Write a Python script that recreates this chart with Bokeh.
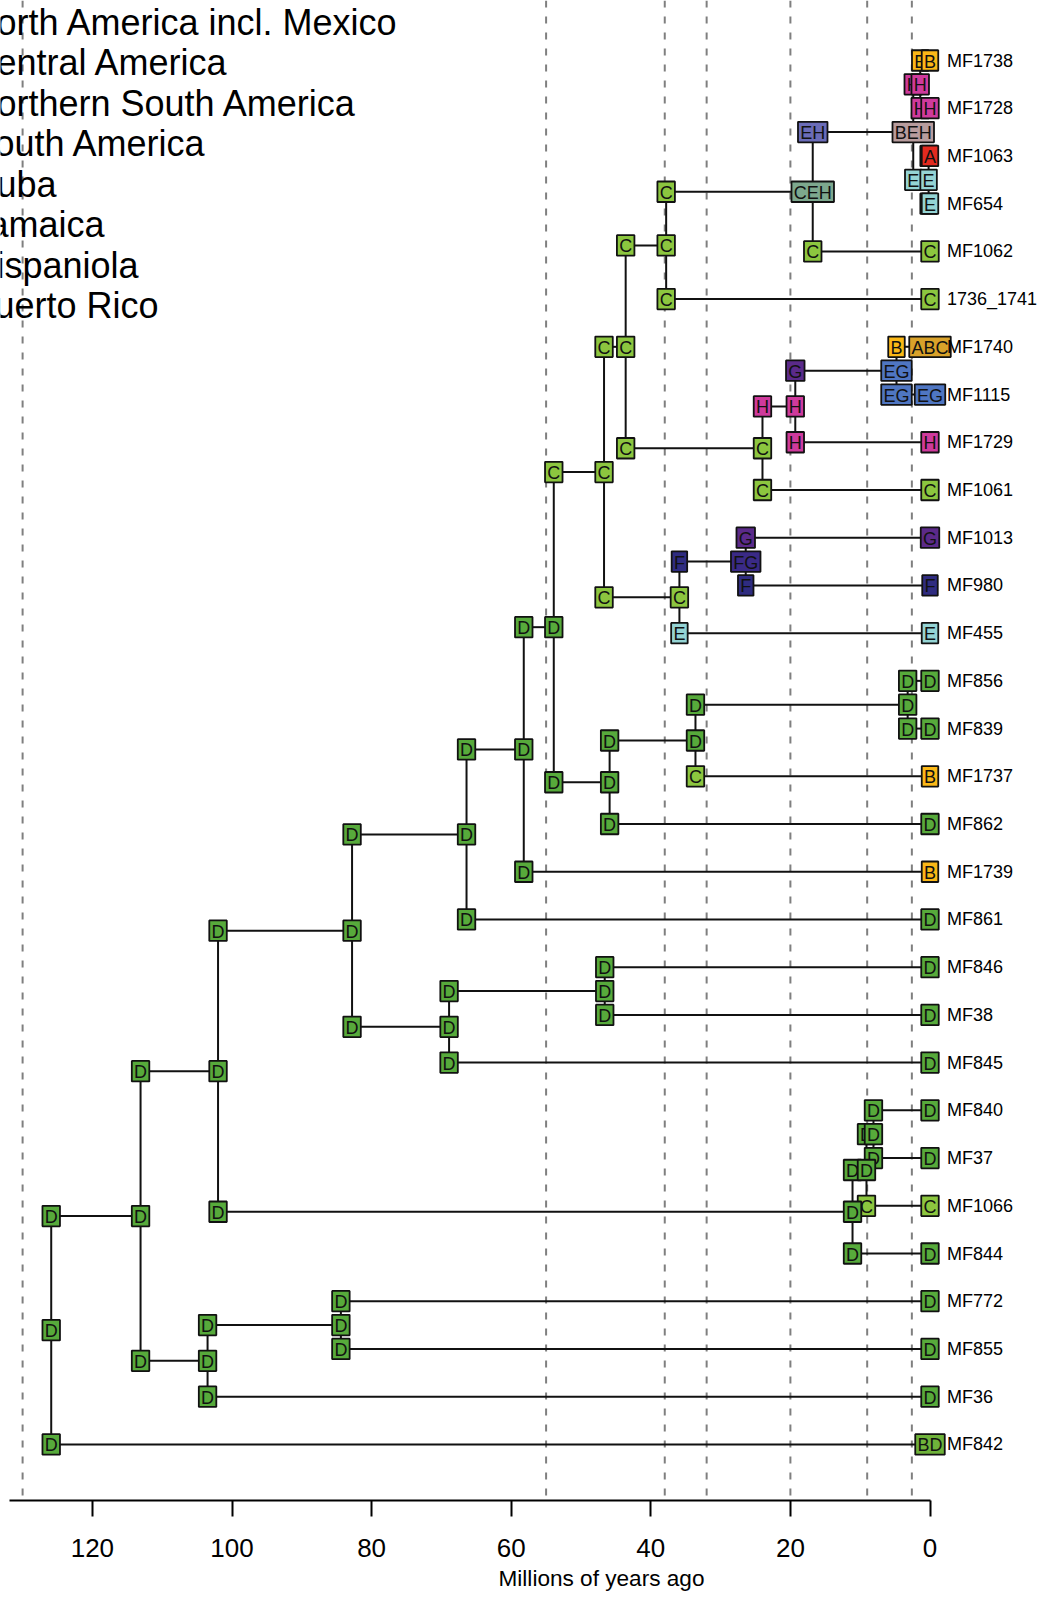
from bokeh.plotting import figure
from bokeh.models import Range1d, LinearAxis, FixedTicker, Span, ColumnDataSource, Title
from bokeh.embed import file_html
from bokeh.resources import INLINE
from bokeh.core.properties import value

# ---------------- data ----------------
tip_names = ["MF1738", "MF1728", "MF1063", "MF654", "MF1062", "1736_1741", "MF1740",
             "MF1115", "MF1729", "MF1061", "MF1013", "MF980", "MF455", "MF856", "MF839",
             "MF1737", "MF862", "MF1739", "MF861", "MF846", "MF38", "MF845", "MF840",
             "MF37", "MF1066", "MF844", "MF772", "MF855", "MF36", "MF842"]
tip_states = ["B", "H", "A", "E", "C", "C", "ABC", "EG", "H", "C", "G", "F", "E", "D", "D",
              "B", "D", "B", "D", "D", "D", "D", "D", "D", "C", "D", "D", "D", "D", "BD"]

# internal nodes: age (Ma), most probable state, children, states at the base of each child branch
node_names = ["root", "nA", "nB", "nC", "nE", "nD", "nG", "nH", "nF", "nI", "nJ", "nL", "nM",
              "nN", "nK", "nP", "nQ", "nO", "nS", "nT", "nU", "nR", "nV", "nW", "nX", "nY",
              "N1", "N2", "N3"]
node_ages = [125.9, 113.1, 102.0, 103.5, 84.4, 82.8, 68.9, 46.6, 66.4, 58.2, 53.9, 45.9, 33.6,
             3.2, 46.7, 35.9, 26.4, 43.6, 24.0, 19.3, 4.8, 37.8, 16.8, 2.4, 1.4, 0.2,
             11.1, 9.1, 8.1]
node_states = ["D", "D", "D", "D", "D", "D", "D", "D", "D", "D", "D", "D", "D",
               "D", "C", "C", "FG", "C", "C", "H", "EG", "C", "CEH", "BEH", "H", "E",
               "D", "D", "D"]
node_top = ["nA", "nB", "nD", "nE", "MF772", "nF", "nH", "MF846", "nI", "nJ", "nK", "nM", "nN",
            "MF856", "nO", "nQ", "MF1013", "nR", "nT", "nU", "MF1740", "nV", "nW", "nX",
            "MF1738", "MF1063", "N2", "N3", "MF840"]
node_bottom = ["MF842", "nC", "N1", "MF36", "MF855", "nG", "MF845", "MF38", "MF861", "MF1739",
               "nL", "MF862", "MF1737", "MF839", "nP", "MF455", "MF980", "nS", "MF1061",
               "MF1729", "MF1115", "1736_1741", "MF1062", "nY", "MF1728", "MF654",
               "MF844", "MF1066", "MF37"]
corner_top = ["D", "D", "D", "D", "D", "D", "D", "D", "D", "D", "C", "D", "D",
              "D", "C", "F", "G", "C", "H", "G", "B", "C", "EH", "H", "B", "A",
              "D", "D", "D"]
corner_bottom = ["D", "D", "D", "D", "D", "D", "D", "D", "D", "D", "D", "D", "C",
                 "D", "C", "E", "F", "C", "C", "H", "EG", "C", "C", "E", "H", "E",
                 "D", "C", "D"]

strata_ages = [130, 55, 38, 32, 20, 9, 2.6]
area_names = ["North America incl. Mexico", "Central America", "Northern South America",
              "South America", "Cuba", "Jamaica", "Hispaniola", "Puerto Rico"]
axis_ticks = [0, 20, 40, 60, 80, 100, 120]
axis_title = "Millions of years ago"

state_colors = {
    "A": "#E32A1F", "B": "#FBB817", "C": "#8CC63F", "D": "#57AA3B", "E": "#94D4D4",
    "F": "#2F2C80", "G": "#5B2A8A", "H": "#CF3A9C", "FG": "#3A2A86", "EG": "#4F76C2",
    "EH": "#6B6CB8", "BEH": "#B89C9D", "CEH": "#7DA88E", "ABC": "#D9A22A", "BD": "#6FB23A",
}

# ---------------- layout ----------------
W, H = 1040, 1597
PX_PER_MA = 6.98
X_AGE0 = 929.5
ROW0 = 60.0
ROW_H = 47.72
FRAME_H = 1500.0
BOTTOM = H - FRAME_H
AXIS_START = 131.9
FONT = "Liberation Sans"
BOX_FS = 18
BOX_PAD = 4.5
BOX_H = 20.5
CW = {"A": 0.667, "B": 0.667, "C": 0.722, "D": 0.722, "E": 0.667, "F": 0.611, "G": 0.778, "H": 0.722}

x_range = Range1d(X_AGE0 / PX_PER_MA, -(W - X_AGE0) / PX_PER_MA)
y_range = Range1d((FRAME_H - ROW0) / ROW_H, -ROW0 / ROW_H)

p = figure(width=W, height=H, x_range=x_range, y_range=y_range, output_backend="svg",
           toolbar_location=None, x_axis_location=None, y_axis_location=None,
           min_border_left=0, min_border_right=0, min_border_top=0,
           min_border_bottom=int(round(BOTTOM)))
p.outline_line_color = None
p.background_fill_color = "white"
p.border_fill_color = "white"
for g in p.grid:
    g.visible = False

# ---------------- tree geometry ----------------
ypos = {n: i for i, n in enumerate(tip_names)}
age = {n: 0.0 for n in tip_names}
idx = {n: k for k, n in enumerate(node_names)}


def node_y(n):
    if n in ypos:
        return ypos[n]
    k = idx[n]
    y = (node_y(node_top[k]) + node_y(node_bottom[k])) / 2.0
    ypos[n] = y
    return y


for k, n in enumerate(node_names):
    node_y(n)
    age[n] = node_ages[k]

# time strata
for a in strata_ages:
    p.add_layout(Span(location=a, dimension="height", line_color="#7f7f7f", line_width=2,
                      line_dash="7 9", level="underlay"))

sx0, sy0, sx1, sy1 = [], [], [], []
for k, n in enumerate(node_names):
    a = node_ages[k]
    for c in (node_top[k], node_bottom[k]):
        sx0.append(a); sy0.append(ypos[c]); sx1.append(age[c]); sy1.append(ypos[c])
    sx0.append(a); sy0.append(ypos[node_top[k]]); sx1.append(a); sy1.append(ypos[node_bottom[k]])
p.segment(sx0, sy0, sx1, sy1, line_color="#111111", line_width=2)


def add_boxes(xs, ys, states):
    src = ColumnDataSource(dict(
        x=xs, y=ys, t=states,
        w=[sum(CW[ch] for ch in s) * BOX_FS + BOX_PAD for s in states],
        c=[state_colors[s] for s in states]))
    p.rect("x", "y", width="w", height=BOX_H, width_units="screen", height_units="screen",
           fill_color="c", line_color="#111111", line_width=1.8, source=src)
    p.text("x", "y", text="t", source=src, text_align="center", text_baseline="middle",
           text_font=value(FONT), text_font_size=value(f"{BOX_FS}px"), text_color="#111111",
           y_offset=1)


# corner (branch-base) states
cx, cy, cs = [], [], []
for k, n in enumerate(node_names):
    cx += [node_ages[k], node_ages[k]]
    cy += [ypos[node_top[k]], ypos[node_bottom[k]]]
    cs += [corner_top[k], corner_bottom[k]]
add_boxes(cx, cy, cs)
# node states
add_boxes(node_ages, [ypos[n] for n in node_names], node_states)
# tip states
add_boxes([0.0] * len(tip_names), list(range(len(tip_names))), tip_states)

# tip labels
p.text(x=[0.0] * len(tip_names), y=list(range(len(tip_names))), text=tip_names,
       x_offset=17, text_align="left", text_baseline="middle",
       text_font=value(FONT), text_font_size=value("18px"), text_color="black")

# area names (cut at the left edge as in the original)
leg_x = (X_AGE0 - 1) / PX_PER_MA
leg_y = [((21.9 + 40.5 * i) - ROW0) / ROW_H for i in range(len(area_names))]
p.text(x=[leg_x] * len(area_names), y=leg_y, text=area_names, x_offset=-31,
       text_align="left", text_baseline="middle",
       text_font=value(FONT), text_font_size=value("36px"), text_color="black")

# x axis
ax = LinearAxis(ticker=FixedTicker(ticks=axis_ticks), bounds=(0, AXIS_START))
ax.axis_line_width = 2
ax.axis_line_color = "black"
ax.major_tick_line_width = 2
ax.major_tick_line_color = "black"
ax.major_tick_out = 16
ax.major_tick_in = 0
ax.minor_tick_out = 0
ax.minor_tick_in = 0
ax.major_label_standoff = 22
ax.major_label_text_font = FONT
ax.major_label_text_font_size = "26px"
ax.major_label_text_color = "black"
p.add_layout(ax, "below")

p.add_layout(Title(text=axis_title, align="left", offset=498, text_font=FONT,
                   text_font_size="22.6px", text_font_style="normal", text_color="black",
                   standoff=9), "below")

open("out.html", "w").write(file_html(p, INLINE))
